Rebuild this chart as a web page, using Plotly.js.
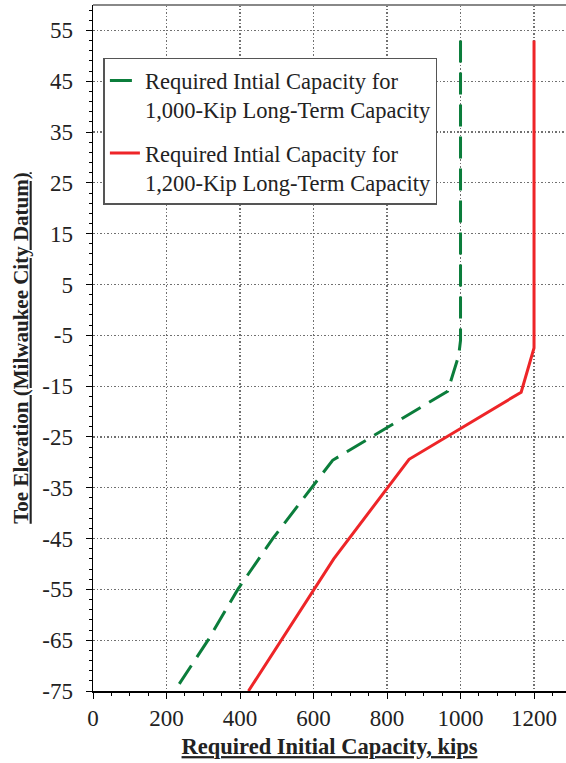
<!DOCTYPE html>
<html><head><meta charset="utf-8">
<script src="https://cdn.plot.ly/plotly-3.0.1.min.js"></script>
<style>html,body{margin:0;padding:0;background:#fff}</style>
</head><body><div id="chart" style="width:566px;height:763px"></div>
<script>
// Series
const elev1000 = [53, -6, -9, -16, -29.6, -35, -45, -55, -65, -75];
const cap1000  = [1000, 1000, 995, 965, 652, 594, 489, 394, 313, 222];
const elev1200 = [53, -7.5, -16.2, -29.4, -49, -75];
const cap1200  = [1200, 1200, 1165, 860, 655, 423];

const name1000 = "Required Intial Capacity for<br>1,000-Kip Long-Term Capacity";
const name1200 = "Required Intial Capacity for<br>1,200-Kip Long-Term Capacity";
const xTitle = "Required Initial Capacity, kips";
const yTitle = "Toe Elevation (Milwaukee City Datum)";
const xTickVals = [0, 200, 400, 600, 800, 1000, 1200];
const xTickText = ["0", "200", "400", "600", "800", "1000", "1200"];
const yTickVals = [55, 45, 35, 25, 15, 5, -5, -15, -25, -35, -45, -55, -65, -75];
const yTickText = ["55", "45", "35", "25", "15", "5", "-5", "-15", "-25", "-35", "-45", "-55", "-65", "-75"];

const serif = "Liberation Serif";

const traces = [
  {x: cap1000, y: elev1000, name: name1000, mode: 'lines', legendgroup: 'a',
   line: {color: '#0b7d3b', width: 3, dash: '22px,10px'}},
  {x: cap1200, y: elev1200, name: name1200, mode: 'lines', legendgroup: 'b',
   line: {color: '#ee2528', width: 3}}
];

const axisCommon = {
  showline: true, linecolor: '#000', linewidth: 1.5,
  ticks: 'outside', ticklen: 6, tickcolor: '#000', tickwidth: 1,
  showgrid: true, gridcolor: '#707070', gridwidth: 1.2, griddash: '1.5px,2px',
  zeroline: false,
  tickfont: {family: serif, size: 23, color: '#222'}
};

const layout = {
  width: 566, height: 763,
  paper_bgcolor: '#fff', plot_bgcolor: '#fff',
  margin: {l: 93, r: 0, t: 5, b: 72},
  showlegend: true,
  font: {family: serif, color: '#222'},
  xaxis: Object.assign({}, axisCommon, {
    range: [0, 1287], tickmode: 'array', tickvals: xTickVals, ticktext: xTickText,
    minor: {tick0: 0, dtick: 50, ticks: 'outside', ticklen: 3, tickcolor: '#000', showgrid: false},
    title: {text: '<b><u>' + xTitle + '</u></b>', font: {family: serif, size: 22.5, color: '#222'}, standoff: 8}
  }),
  yaxis: Object.assign({}, axisCommon, {
    range: [-75, 60], tickmode: 'array', tickvals: yTickVals, ticktext: yTickText,
    ticklabelstandoff: 8,
    minor: {tick0: -75, dtick: 2, ticks: 'outside', ticklen: 3, tickcolor: '#000', showgrid: false},
    title: {text: '<b><u>' + yTitle + '</u></b>', font: {family: serif, size: 21, color: '#222'}, standoff: 8}
  }),
  legend: {
    x: 0.022, y: 0.923, xanchor: 'left', yanchor: 'top',
    bgcolor: '#fff', bordercolor: '#555', borderwidth: 1.5,
    font: {family: serif, size: 22.5, color: '#222'},
    valign: 'top', traceorder: 'grouped', tracegroupgap: 11
  },
  shapes: [
    {type: 'line', xref: 'paper', yref: 'paper', x0: 0, x1: 1, y0: 1, y1: 1,
     line: {color: '#888', width: 2}}
  ]
};

Plotly.newPlot('chart', traces, layout, {displayModeBar: false, staticPlot: true});
</script>
</body></html>
